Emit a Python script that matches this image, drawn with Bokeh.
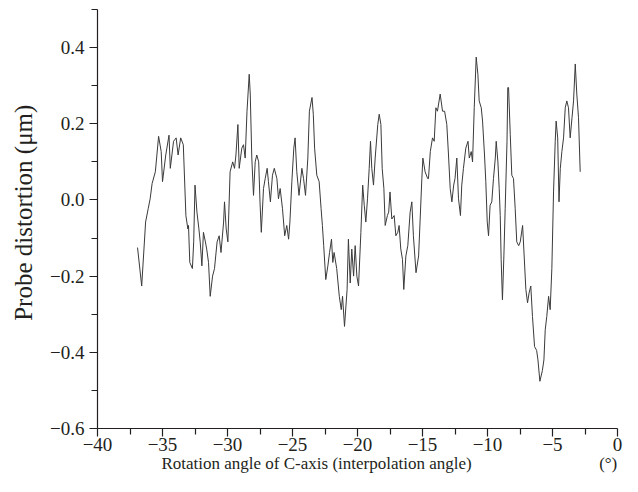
from bokeh.plotting import figure
from bokeh.models import FixedTicker, CustomJSTickFormatter, Range1d
from bokeh.embed import file_html
from bokeh.resources import INLINE

# Rotation angle of C-axis (deg)
angle = [
    -36.92, -36.6, -36.3, -36.1, -35.95, -35.8, -35.55, -35.3, -35.1, -35.0,
    -34.75, -34.5, -34.4, -34.15, -33.95, -33.8, -33.6, -33.4, -33.2, -33.05,
    -33.0, -32.9, -32.7, -32.6, -32.5, -32.35, -32.2, -32.1, -31.97, -31.85,
    -31.7, -31.6, -31.46, -31.33, -31.15, -31.0, -30.8, -30.64, -30.5, -30.3,
    -30.23, -30.1, -29.97, -29.8, -29.6, -29.46, -29.35, -29.2, -29.1, -28.9,
    -28.77, -28.64, -28.5, -28.33, -28.25, -28.13, -28.0, -27.87, -27.75, -27.6,
    -27.5, -27.4, -27.23, -27.1, -26.95, -26.85, -26.7, -26.54, -26.4, -26.2,
    -26.08, -25.95, -25.77, -25.6, -25.44, -25.3, -25.2, -25.05, -24.9, -24.8,
    -24.67, -24.5, -24.28, -24.15, -24.0, -23.82, -23.7, -23.5, -23.4, -23.3,
    -23.13, -22.95, -22.8, -22.7, -22.6, -22.44, -22.28, -22.15, -22.0, -21.9,
    -21.8, -21.6, -21.4, -21.25, -21.15, -21.0, -20.8, -20.7, -20.56, -20.44,
    -20.3, -20.18, -20.05, -19.92, -19.74, -19.6, -19.48, -19.36, -19.23, -19.1,
    -19.0, -18.9, -18.77, -18.64, -18.44, -18.33, -18.2, -18.1, -17.97, -17.87,
    -17.7, -17.6, -17.5, -17.36, -17.18, -17.05, -16.9, -16.8, -16.67, -16.54,
    -16.44, -16.28, -16.13, -15.95, -15.82, -15.7, -15.5, -15.3, -15.18, -15.05,
    -14.97, -14.8, -14.6, -14.54, -14.4, -14.23, -14.1, -13.97, -13.85, -13.64,
    -13.46, -13.3, -13.13, -13.0, -12.87, -12.74, -12.6, -12.5, -12.36, -12.23,
    -12.08, -11.98, -11.85, -11.67, -11.5, -11.4, -11.25, -11.15, -11.02, -10.87,
    -10.74, -10.64, -10.48, -10.38, -10.23, -10.13, -10.02, -9.92, -9.8, -9.67,
    -9.54, -9.4, -9.33, -9.2, -9.1, -9.02, -8.95, -8.85, -8.74, -8.64,
    -8.5, -8.44, -8.38, -8.25, -8.13, -8.0, -7.87, -7.75, -7.6, -7.48,
    -7.3, -7.18, -7.05, -6.92, -6.8, -6.67, -6.54, -6.38, -6.22, -6.12,
    -5.97, -5.78, -5.66, -5.56, -5.44, -5.3, -5.18, -5.05, -4.92, -4.79,
    -4.72, -4.6, -4.5, -4.4, -4.28, -4.15, -4.02, -3.9, -3.77, -3.64,
    -3.5, -3.38, -3.25, -3.13, -3.0, -2.87,
]

# Probe distortion (um)
distortion = [
    -0.125, -0.226, -0.058, -0.023, 0.003, 0.043, 0.074, 0.167, 0.127, 0.048,
    0.118, 0.17, 0.083, 0.154, 0.163, 0.118, 0.163, 0.145, -0.041, -0.076,
    -0.067, -0.164, -0.18, -0.11, 0.039, -0.032, -0.076, -0.11, -0.173, -0.085,
    -0.11, -0.129, -0.164, -0.253, -0.2, -0.18, -0.11, -0.094, -0.138, -0.058,
    -0.005, -0.076, -0.11, 0.074, 0.1, 0.083, 0.118, 0.198, 0.083, 0.136,
    0.145, 0.11, 0.233, 0.33, 0.278, 0.11, 0.012, 0.1, 0.118, 0.1,
    -0.005, -0.085, 0.03, 0.056, 0.083, 0.048, -0.005, 0.065, 0.083, 0.056,
    0.003, 0.03, -0.023, -0.094, -0.067, -0.103, -0.058, 0.048, 0.136, 0.163,
    0.074, 0.012, 0.083, 0.056, 0.012, 0.11, 0.233, 0.269, 0.225, 0.136,
    0.065, 0.048, -0.023, -0.067, -0.12, -0.209, -0.173, -0.138, -0.103, -0.164,
    -0.138, -0.18, -0.253, -0.288, -0.253, -0.332, -0.235, -0.103, -0.218, -0.129,
    -0.2, -0.12, -0.2, -0.226, -0.085, 0.039, -0.014, -0.058, 0.003, 0.083,
    0.154, 0.083, 0.039, 0.11, 0.198, 0.225, 0.198, 0.083, 0.03, -0.067,
    -0.041, -0.032, 0.021, -0.05, -0.041, -0.094, -0.085, -0.067, -0.129, -0.156,
    -0.235, -0.147, -0.12, -0.032, -0.005, -0.094, -0.191, -0.147, -0.05, 0.056,
    0.11, 0.074, 0.056, 0.056, 0.127, 0.163, 0.154, 0.242, 0.233, 0.278,
    0.233, 0.233, 0.198, 0.118, 0.03, -0.005, 0.039, 0.056, 0.11, 0.003,
    -0.041, 0.039, 0.083, 0.136, 0.154, 0.11, 0.127, 0.1, 0.242, 0.375,
    0.33, 0.26, 0.242, 0.207, 0.118, 0.048, -0.058, -0.094, -0.014, -0.005,
    0.056, 0.11, 0.154, 0.1, 0.03, -0.041, -0.156, -0.262, -0.147, -0.023,
    0.154, 0.295, 0.295, 0.172, 0.065, 0.056, -0.023, -0.11, -0.12, -0.11,
    -0.067, -0.147, -0.235, -0.27, -0.244, -0.226, -0.306, -0.385, -0.395, -0.42,
    -0.476, -0.448, -0.42, -0.341, -0.306, -0.253, -0.288, -0.18, 0.021, 0.154,
    0.207, 0.163, -0.005, 0.083, 0.127, 0.163, 0.242, 0.26, 0.242, 0.163,
    0.216, 0.26, 0.357, 0.278, 0.216, 0.074,
]

x_major = [-40, -35, -30, -25, -20, -15, -10, -5, 0]
x_minor = [-37.5, -32.5, -27.5, -22.5, -17.5, -12.5, -7.5, -2.5]
y_major = [-0.6, -0.4, -0.2, 0.0, 0.2, 0.4]
y_minor = [-0.5, -0.3, -0.1, 0.1, 0.3, 0.5]

x_title = "Rotation angle of C-axis (interpolation angle)"
x_unit = "(\u00b0)"
y_title = "Probe distortion (\u03bcm)"

FONT = "Liberation Serif"
TXT = "#231f20"
NB = "\u00a0"

p = figure(width=636, height=490, output_backend="svg", toolbar_location=None,
           x_range=Range1d(-40, 0), y_range=Range1d(-0.6, 0.5),
           min_border_left=97, min_border_right=19, min_border_top=9,
           min_border_bottom=62)
p.outline_line_color = None
p.xgrid.visible = False
p.ygrid.visible = False
p.background_fill_color = "white"
p.border_fill_color = "white"

p.line(angle, distortion, line_color="#3a3a3a", line_width=1)

for ax in (p.xaxis[0], p.yaxis[0]):
    ax.axis_line_color = TXT
    ax.axis_line_width = 1.2
    ax.major_tick_line_color = TXT
    ax.minor_tick_line_color = TXT
    ax.major_tick_line_width = 1.2
    ax.minor_tick_line_width = 1.2
    ax.major_tick_in = 0
    ax.minor_tick_in = 0
    ax.major_tick_out = 8
    ax.minor_tick_out = 6
    ax.major_label_text_font = FONT
    ax.major_label_text_font_size = "19px"
    ax.major_label_text_color = TXT
    ax.axis_label_text_font = FONT
    ax.axis_label_text_font_style = "normal"
    ax.axis_label_text_color = TXT

p.xaxis[0].ticker = FixedTicker(ticks=x_major, minor_ticks=x_minor)
p.yaxis[0].ticker = FixedTicker(ticks=y_major, minor_ticks=y_minor)
p.xaxis[0].formatter = CustomJSTickFormatter(
    code="return Math.round(tick).toString().replace('-', '\u2212');")
p.yaxis[0].formatter = CustomJSTickFormatter(
    code="var s = tick.toFixed(1); if (s === '-0.0') s = '0.0'; return s.replace('-', '\u2212');")
p.xaxis[0].major_label_standoff = 1
p.yaxis[0].major_label_standoff = 5

# axis titles (non-breaking spaces position the unit under the 0 tick)
p.xaxis[0].axis_label = NB * 15 + x_title + NB * 30 + x_unit
p.xaxis[0].axis_label_text_font_size = "17px"
p.xaxis[0].axis_label_standoff = 0
p.yaxis[0].axis_label = NB * 2 + y_title
p.yaxis[0].axis_label_text_font_size = "25px"
p.yaxis[0].axis_label_standoff = 10

open("out.html", "w").write(file_html(p, INLINE))
